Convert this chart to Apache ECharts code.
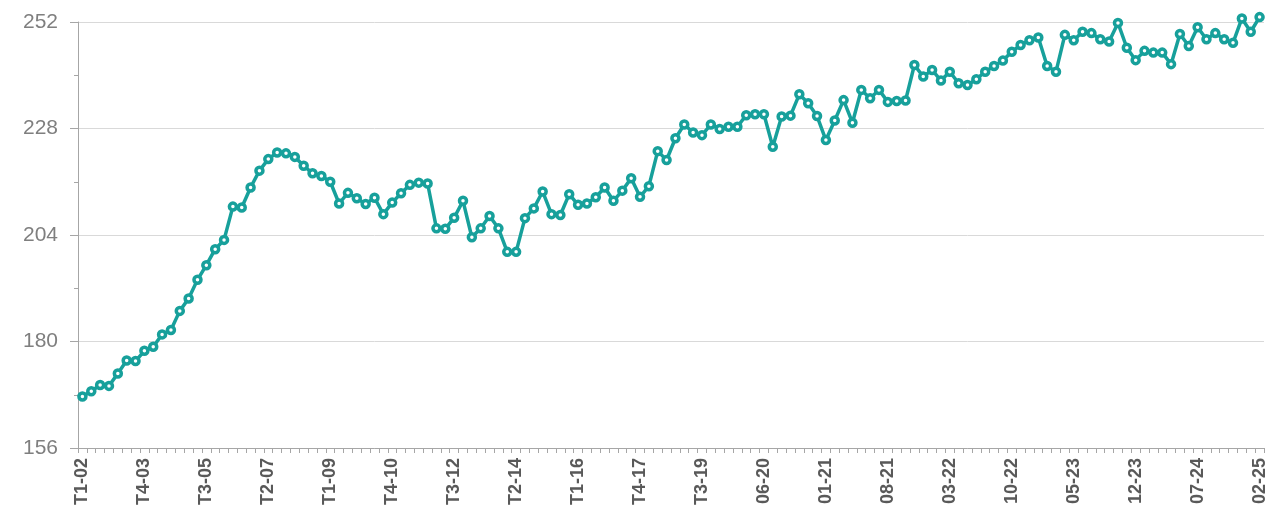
<!DOCTYPE html>
<html>
<head>
<meta charset="utf-8">
<script src="https://cdn.jsdelivr.net/npm/echarts@6/dist/echarts.min.js"></script>
<style>
  html, body { margin: 0; padding: 0; background: #fff; }
  #chart { width: 1272px; height: 514px; }
</style>
</head>
<body>
<div id="chart"></div>
<script>
// quarterly 2002 Q1 .. 2019 Q4, then monthly 01-2020 .. 02-2025
var quarterYears = [2002, 2019];
var monthStart = [2020, 1];
var monthEnd = [2025, 2];

var values = [
  167.6, 168.8, 170.2, 170.0, 172.8, 175.7, 175.6, 177.9, 178.8, 181.6,
  182.6, 186.9, 189.7, 193.9, 197.2, 200.8, 202.9, 210.4, 210.2, 214.7,
  218.5, 221.1, 222.6, 222.4, 221.6, 219.6, 217.9, 217.3, 216.0, 211.1,
  213.5, 212.3, 211.0, 212.4, 208.7, 211.3, 213.4, 215.3, 215.8, 215.6,
  205.5, 205.4, 207.9, 211.7, 203.5, 205.5, 208.3, 205.5, 200.2, 200.2,
  207.8, 210.0, 213.8, 208.7, 208.5, 213.2, 210.8, 211.1, 212.5, 214.7,
  211.7, 214.0, 216.8, 212.6, 215.0, 222.9, 220.9, 225.8, 228.9, 227.1,
  226.5, 228.9, 227.9, 228.4, 228.4, 231.0, 231.2, 231.2, 223.9, 230.7,
  230.9, 235.7, 233.7, 230.8, 225.4, 229.8, 234.4, 229.3, 236.7, 234.8,
  236.7, 234.0, 234.2, 234.3, 242.3, 239.7, 241.2, 238.8, 240.8, 238.2,
  237.8, 239.1, 240.8, 242.1, 243.3, 245.3, 246.8, 247.9, 248.5, 242.1,
  240.8, 249.1, 247.9, 249.8, 249.5, 248.1, 247.6, 251.8, 246.2, 243.4,
  245.5, 245.1, 245.1, 242.5, 249.3, 246.6, 250.8, 248.1, 249.5, 248.1,
  247.3, 252.8, 249.8, 253.1
];

var yTicks = [156, 180, 204, 228, 252];

function pad(n) { return (n < 10 ? '0' : '') + n; }

var categories = [];
for (var y = quarterYears[0]; y <= quarterYears[1]; y++) {
  for (var q = 1; q <= 4; q++) {
    categories.push('T' + q + '-' + pad(y % 100));
  }
}
var yy = monthStart[0], mm = monthStart[1];
while (yy < monthEnd[0] || (yy == monthEnd[0] && mm <= monthEnd[1])) {
  categories.push(pad(mm) + '-' + pad(yy % 100));
  mm++;
  if (mm > 12) { mm = 1; yy++; }
}

var teal = '#17a09b';
var myChart = echarts.init(document.getElementById('chart'), null, { renderer: 'canvas' });
var option = {
  animation: false,
  grid: { left: 78, right: 8, top: 22, bottom: 66, containLabel: false },
  xAxis: {
    type: 'category',
    data: categories,
    boundaryGap: true,
    axisLine: { show: true, lineStyle: { color: '#a6a6a6', width: 1 } },
    axisTick: { show: true, interval: 0, length: 5, lineStyle: { color: '#a6a6a6' } },
    axisLabel: {
      interval: 6,
      rotate: 90,
      margin: 10,
      color: '#595959',
      fontWeight: 'bold',
      fontSize: 18,
      fontFamily: 'Liberation Sans, Arial, sans-serif'
    },
    splitLine: { show: false }
  },
  yAxis: {
    type: 'value',
    min: yTicks[0],
    max: yTicks[yTicks.length - 1],
    interval: 24,
    axisLine: { show: true, lineStyle: { color: '#a6a6a6', width: 1 } },
    axisTick: { show: true, inside: false, length: 8, lineStyle: { color: '#a6a6a6' } },
    minorTick: { show: true, splitNumber: 2, length: 4, lineStyle: { color: '#a6a6a6' } },
    axisLabel: {
      margin: 20,
      color: '#7f7f7f',
      fontSize: 21,
      fontFamily: 'Liberation Sans, Arial, sans-serif'
    },
    splitLine: { show: true, lineStyle: { color: '#d9d9d9', width: 1 } }
  },
  series: [
    {
      type: 'line',
      data: values,
      clip: false,
      symbol: 'circle',
      symbolSize: 7,
      showAllSymbol: true,
      lineStyle: { color: teal, width: 3.5 },
      itemStyle: { color: '#ffffff', borderColor: teal, borderWidth: 3.5 }
    }
  ]
};
myChart.setOption(option);
</script>
</body>
</html>
